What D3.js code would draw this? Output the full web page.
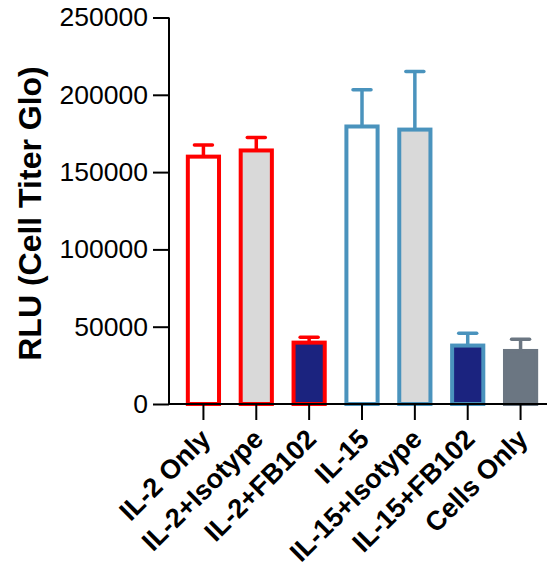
<!DOCTYPE html>
<html>
<head>
<meta charset="utf-8">
<script src="https://cdn.jsdelivr.net/npm/d3@7"></script>
<style>
  html, body { margin: 0; padding: 0; background: #fff; }
  svg { display: block; font-family: "Liberation Sans", Arial, sans-serif; }
</style>
</head>
<body>
<svg id="chart" width="552" height="568"></svg>
<script>
// Cell viability readout per treatment group
const categories = ["IL-2 Only", "IL-2+Isotype", "IL-2+FB102", "IL-15", "IL-15+Isotype", "IL-15+FB102", "Cells Only"];
const means = [160000, 164000, 39700, 179500, 177500, 37800, 34300];
const errors = [7500, 8300, 3500, 23700, 37500, 8000, 7600];
const strokeColors = ["#ff0000", "#ff0000", "#ff0000", "#4a93bd", "#4a93bd", "#4a93bd", "#6b7682"];
const fillColors = ["#ffffff", "#d9d9d9", "#1b237f", "#ffffff", "#d9d9d9", "#1b237f", "#6b7682"];
const yTicks = [0, 50000, 100000, 150000, 200000, 250000];
const yTitle = "RLU (Cell Titer Glo)";

const svg = d3.select("#chart");
const axisX = 169, baseY = 404, topY = 17.5;

const y = d3.scaleLinear().domain([0, 250000]).range([baseY, topY]);
const x = d3.scaleBand().domain(categories).range([177, 547])
  .paddingInner(0.41).paddingOuter(0.205);

const data = categories.map((c, i) => ({
  cat: c, mean: means[i], err: errors[i], stroke: strokeColors[i], fill: fillColors[i]
}));

// bars
const bw = x.bandwidth();
svg.append("g").selectAll("rect").data(data).join("rect")
  .attr("x", d => x(d.cat))
  .attr("y", d => y(d.mean))
  .attr("width", bw)
  .attr("height", d => y(0) - y(d.mean))
  .attr("fill", d => d.fill)
  .attr("stroke", d => d.stroke)
  .attr("stroke-width", 4);

// upper error bars
const capW = 18;
const eg = svg.append("g").selectAll("g").data(data).join("g");
eg.append("line")
  .attr("x1", d => x(d.cat) + bw / 2).attr("x2", d => x(d.cat) + bw / 2)
  .attr("y1", d => y(d.mean)).attr("y2", d => y(d.mean + d.err))
  .attr("stroke", d => d.stroke).attr("stroke-width", 3.5);
eg.append("line")
  .attr("x1", d => x(d.cat) + bw / 2 - capW / 2).attr("x2", d => x(d.cat) + bw / 2 + capW / 2)
  .attr("y1", d => y(d.mean + d.err)).attr("y2", d => y(d.mean + d.err))
  .attr("stroke", d => d.stroke).attr("stroke-width", 3.5)
  .attr("stroke-linecap", "round");

// y axis
const yAxis = svg.append("g").attr("transform", `translate(${axisX},0)`)
  .call(d3.axisLeft(y).tickValues(yTicks).tickFormat(d3.format("d")).tickSize(16).tickPadding(5));
yAxis.select(".domain").attr("d", `M0,${topY}V${baseY}`).attr("stroke-width", 2);
yAxis.selectAll(".tick line").attr("stroke-width", 2);
yAxis.selectAll(".tick text").attr("font-size", 26.5).attr("fill", "#000")
  .attr("font-family", "Liberation Sans, Arial, sans-serif");

// x axis
const xAxis = svg.append("g").attr("transform", `translate(0,${baseY})`)
  .call(d3.axisBottom(x).tickSize(16).tickFormat(""));
xAxis.select(".domain").attr("d", `M${axisX},0H547`).attr("stroke-width", 2);
xAxis.selectAll(".tick line").attr("stroke-width", 2);

// rotated category labels
svg.append("g").selectAll("text").data(categories).join("text")
  .attr("transform", d => `translate(${x(d) + bw / 2 + 2},${baseY + 30}) rotate(-45)`)
  .attr("text-anchor", "end")
  .attr("dy", "0.35em")
  .attr("font-size", 27)
  .attr("font-weight", "bold")
  .text(d => d);

// y title
svg.append("text")
  .attr("transform", `translate(41,${(65 + 362) / 2}) rotate(-90)`)
  .attr("text-anchor", "middle")
  .attr("font-size", 32)
  .attr("font-weight", "bold")
  .text(yTitle);
</script>
</body>
</html>
